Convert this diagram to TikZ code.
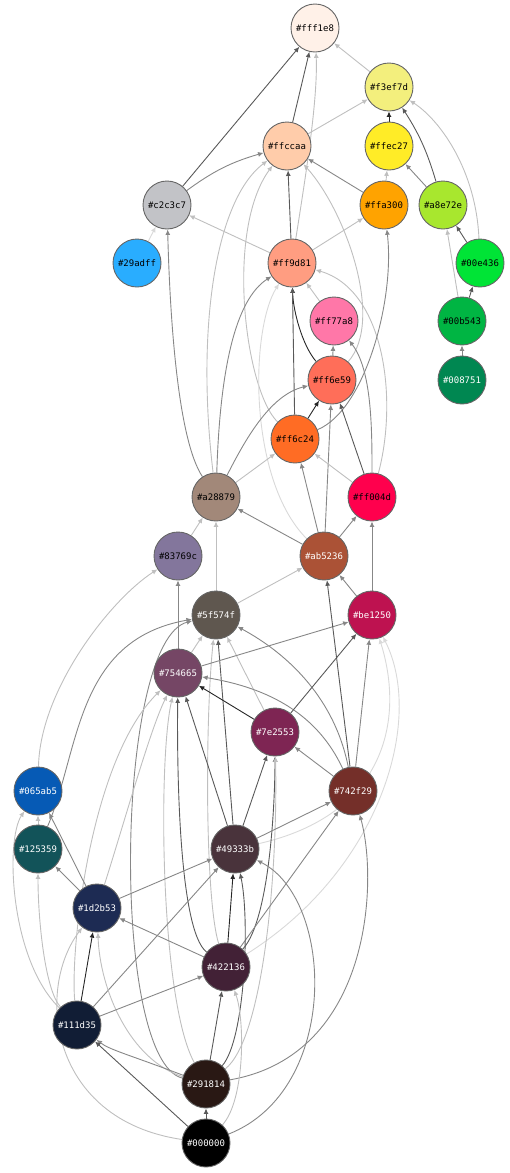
\documentclass[tikz,border=0pt]{standalone}
\usepackage{xcolor}
\usepackage{fontspec}
\setmonofont{DejaVu Sans Mono}
\usepackage{tikz}
\usetikzlibrary{arrows.meta,backgrounds}

\definecolor{cfff1e8}{HTML}{FFF1E8}
\definecolor{cf3ef7d}{HTML}{F3EF7D}
\definecolor{cffec27}{HTML}{FFEC27}
\definecolor{cffccaa}{HTML}{FFCCAA}
\definecolor{cc2c3c7}{HTML}{C2C3C7}
\definecolor{cffa300}{HTML}{FFA300}
\definecolor{ca8e72e}{HTML}{A8E72E}
\definecolor{c29adff}{HTML}{29ADFF}
\definecolor{cff9d81}{HTML}{FF9D81}
\definecolor{c00e436}{HTML}{00E436}
\definecolor{cff77a8}{HTML}{FF77A8}
\definecolor{c00b543}{HTML}{00B543}
\definecolor{cff6e59}{HTML}{FF6E59}
\definecolor{c008751}{HTML}{008751}
\definecolor{cff6c24}{HTML}{FF6C24}
\definecolor{ca28879}{HTML}{A28879}
\definecolor{cff004d}{HTML}{FF004D}
\definecolor{c83769c}{HTML}{83769C}
\definecolor{cab5236}{HTML}{AB5236}
\definecolor{c5f574f}{HTML}{5F574F}
\definecolor{cbe1250}{HTML}{BE1250}
\definecolor{c754665}{HTML}{754665}
\definecolor{c7e2553}{HTML}{7E2553}
\definecolor{c065ab5}{HTML}{065AB5}
\definecolor{c742f29}{HTML}{742F29}
\definecolor{c125359}{HTML}{125359}
\definecolor{c49333b}{HTML}{49333B}
\definecolor{c1d2b53}{HTML}{1D2B53}
\definecolor{c422136}{HTML}{422136}
\definecolor{c111d35}{HTML}{111D35}
\definecolor{c291814}{HTML}{291814}
\definecolor{c000000}{HTML}{000000}

\begin{document}
\begin{tikzpicture}[x=1pt,y=-1pt,
  swatch/.style={circle,draw=black!60,line width=0.9pt,minimum size=48pt,inner sep=0pt,
    font=\ttfamily\fontsize{9}{10}\selectfont},
  dk/.style={text=white},
  lnk/.style={line width=0.9pt,-{Latex[length=5.5pt,width=5pt]}},
  eK/.style={lnk,draw=black!85},
  eD/.style={lnk,draw=black!65},
  eG/.style={lnk,draw=black!47},
  eL/.style={lnk,draw=black!25},
  eLL/.style={lnk,draw=black!15}]
\useasboundingbox (0,0) rectangle (510,1173);
% swatches, lightest on top
\node[swatch,fill=cfff1e8] (nfff1e8) at (315,28) {\#fff1e8};
\node[swatch,fill=cf3ef7d] (nf3ef7d) at (389,87) {\#f3ef7d};
\node[swatch,fill=cffec27] (nffec27) at (389,146) {\#ffec27};
\node[swatch,fill=cffccaa] (nffccaa) at (287,146) {\#ffccaa};
\node[swatch,fill=cc2c3c7] (nc2c3c7) at (167,205) {\#c2c3c7};
\node[swatch,fill=cffa300] (nffa300) at (384,205) {\#ffa300};
\node[swatch,fill=ca8e72e] (na8e72e) at (443,205) {\#a8e72e};
\node[swatch,fill=c29adff] (n29adff) at (137,263) {\#29adff};
\node[swatch,fill=cff9d81] (nff9d81) at (292,263) {\#ff9d81};
\node[swatch,fill=c00e436] (n00e436) at (480,263) {\#00e436};
\node[swatch,fill=cff77a8] (nff77a8) at (334,321) {\#ff77a8};
\node[swatch,fill=c00b543] (n00b543) at (462,321) {\#00b543};
\node[swatch,fill=cff6e59] (nff6e59) at (332,380) {\#ff6e59};
\node[swatch,fill=c008751,dk] (n008751) at (462,380) {\#008751};
\node[swatch,fill=cff6c24] (nff6c24) at (295,439) {\#ff6c24};
\node[swatch,fill=ca28879] (na28879) at (216,497) {\#a28879};
\node[swatch,fill=cff004d] (nff004d) at (372,497) {\#ff004d};
\node[swatch,fill=c83769c] (n83769c) at (178,556) {\#83769c};
\node[swatch,fill=cab5236,dk] (nab5236) at (324,556) {\#ab5236};
\node[swatch,fill=c5f574f,dk] (n5f574f) at (216,615) {\#5f574f};
\node[swatch,fill=cbe1250,dk] (nbe1250) at (372,615) {\#be1250};
\node[swatch,fill=c754665,dk] (n754665) at (178,673) {\#754665};
\node[swatch,fill=c7e2553,dk] (n7e2553) at (275,732) {\#7e2553};
\node[swatch,fill=c065ab5,dk] (n065ab5) at (38,791) {\#065ab5};
\node[swatch,fill=c742f29,dk] (n742f29) at (353,791) {\#742f29};
\node[swatch,fill=c125359,dk] (n125359) at (38,849) {\#125359};
\node[swatch,fill=c49333b,dk] (n49333b) at (235,849) {\#49333b};
\node[swatch,fill=c1d2b53,dk] (n1d2b53) at (97,908) {\#1d2b53};
\node[swatch,fill=c422136,dk] (n422136) at (226,967) {\#422136};
\node[swatch,fill=c111d35,dk] (n111d35) at (77,1025) {\#111d35};
\node[swatch,fill=c291814,dk] (n291814) at (206,1084) {\#291814};
\node[swatch,fill=c000000,dk] (n000000) at (206,1143) {\#000000};

\begin{scope}[on background layer]
% top part
\draw[eD] (nc2c3c7) -- (nfff1e8);
\draw[eD] (nffccaa) -- (nfff1e8);
\draw[eL] (nff9d81) .. controls (305,180) and (318,100) .. (nfff1e8);
\draw[eL] (nf3ef7d) -- (nfff1e8);
\draw[eK] (nffec27) -- (nf3ef7d);
\draw[eL] (nffccaa) -- (nf3ef7d);
\draw[eD] (na8e72e) to[bend right=8] (nf3ef7d);
\draw[eL] (n00e436) .. controls (476,170) and (440,120) .. (nf3ef7d);
\draw[eL] (nffa300) -- (nffec27);
\draw[eG] (na8e72e) -- (nffec27);
\draw[eG] (nffa300) -- (nffccaa);
\draw[eD] (nff9d81) -- (nffccaa);
\draw[eG] (nc2c3c7) to[bend left=10] (nffccaa);
\draw[eL] (na28879) .. controls (196,330) and (215,200) .. (nffccaa);
\draw[eL] (nff6c24) .. controls (245,390) and (225,230) .. (nffccaa);
\draw[eL] (nff6e59) .. controls (385,320) and (345,210) .. (nffccaa);
\draw[eL] (nff9d81) -- (nffa300);
\draw[eL] (nff9d81) -- (nc2c3c7);
\draw[eG] (na28879) .. controls (178,440) and (170,320) .. (nc2c3c7);
\draw[eLL] (n29adff) -- (nc2c3c7);
% green column
\draw[eD] (n00b543) -- (n00e436);
\draw[eL] (n00b543) -- (na8e72e);
\draw[eD] (n00e436) -- (na8e72e);
\draw[eG] (n008751) -- (n00b543);
% middle part
\draw[eK] (nff6e59) .. controls (302,345) and (293,310) .. (nff9d81);
\draw[eD] (nff6c24) -- (nff9d81);
\draw[eL] (nff77a8) -- (nff9d81);
\draw[eG] (na28879) .. controls (220,370) and (235,300) .. (nff9d81);
\draw[eL] (nff004d) .. controls (398,400) and (385,290) .. (nff9d81);
\draw[eLL] (nab5236) .. controls (248,480) and (250,330) .. (nff9d81);
\draw[eG] (nff6e59) -- (nff77a8);
\draw[eG] (nff004d) .. controls (372,430) and (372,370) .. (nff77a8);
\draw[eG] (nff6c24) .. controls (365,410) and (395,300) .. (nffa300);
\draw[eK] (nff6c24) -- (nff6e59);
\draw[eG] (nab5236) -- (nff6c24);
\draw[eG] (nab5236) -- (nff6e59);
\draw[eD] (nff004d) -- (nff6e59);
\draw[eL] (nff004d) -- (nff6c24);
\draw[eL] (na28879) -- (nff6c24);
\draw[eG] (na28879) .. controls (245,440) and (270,395) .. (nff6e59);
\draw[eG] (nab5236) -- (nff004d);
\draw[eG] (nbe1250) -- (nff004d);
\draw[eG] (nab5236) -- (na28879);
\draw[eL] (n83769c) -- (na28879);
\draw[eL] (n5f574f) -- (na28879);
\draw[eG] (n754665) -- (n83769c);
\draw[eL] (n065ab5) .. controls (40,690) and (110,600) .. (n83769c);
\draw[eL] (n5f574f) -- (nab5236);
\draw[eG] (nbe1250) -- (nab5236);
% lower part
\draw[eL] (n754665) -- (n5f574f);
\draw[eG] (n125359) .. controls (80,750) and (75,640) .. (n5f574f);
\draw[eG] (n291814) .. controls (110,1060) and (115,640) .. (n5f574f);
\draw[eD] (n49333b) -- (n5f574f);
\draw[eL] (n422136) .. controls (205,900) and (205,720) .. (n5f574f);
\draw[eL] (n7e2553) -- (n5f574f);
\draw[eG] (n742f29) .. controls (335,700) and (290,655) .. (n5f574f);
\draw[eG] (n754665) -- (nbe1250);
\draw[eG] (n742f29) .. controls (318,715) and (270,688) .. (n754665);
\draw[eK] (n7e2553) -- (n754665);
\draw[eD] (n49333b) -- (n754665);
\draw[eD] (n422136) .. controls (178,930) and (177,760) .. (n754665);
\draw[eL] (n1d2b53) .. controls (125,820) and (150,730) .. (n754665);
\draw[eL] (n291814) .. controls (160,1000) and (158,760) .. (n754665);
\draw[eL] (n111d35) .. controls (70,950) and (90,760) .. (n754665);
\draw[eD] (n7e2553) -- (nbe1250);
\draw[eG] (n742f29) -- (nbe1250);
\draw[eD] (n742f29) -- (nab5236);
\draw[eLL] (n49333b) .. controls (385,815) and (405,720) .. (nbe1250);
\draw[eLL] (n422136) .. controls (380,870) and (425,720) .. (nbe1250);
\draw[eG] (n742f29) -- (n7e2553);
\draw[eD] (n49333b) -- (n7e2553);
\draw[eD] (n422136) .. controls (270,920) and (275,800) .. (n7e2553);
\draw[eL] (n291814) .. controls (262,1040) and (278,880) .. (n7e2553);
\draw[eG] (n49333b) -- (n742f29);
\draw[eG] (n422136) -- (n742f29);
\draw[eG] (n291814) .. controls (372,1055) and (378,880) .. (n742f29);
\draw[eL] (n125359) -- (n065ab5);
\draw[eG] (n1d2b53) -- (n065ab5);
\draw[eL] (n111d35) .. controls (10,960) and (5,840) .. (n065ab5);
\draw[eG] (n1d2b53) -- (n125359);
\draw[eL] (n111d35) .. controls (45,990) and (38,920) .. (n125359);
\draw[eG] (n1d2b53) -- (n49333b);
\draw[eK] (n422136) -- (n49333b);
\draw[eD] (n291814) .. controls (245,1040) and (250,920) .. (n49333b);
\draw[eG] (n000000) .. controls (340,1090) and (335,900) .. (n49333b);
\draw[eG] (n111d35) -- (n49333b);
\draw[eG] (n422136) -- (n1d2b53);
\draw[eK] (n111d35) -- (n1d2b53);
\draw[eL] (n000000) .. controls (50,1120) and (35,990) .. (n1d2b53);
\draw[eL] (n291814) .. controls (130,1060) and (100,990) .. (n1d2b53);
\draw[eG] (n111d35) -- (n422136);
\draw[eD] (n291814) -- (n422136);
\draw[eL] (n000000) .. controls (245,1100) and (245,1020) .. (n422136);
\draw[eG] (n291814) .. controls (130,1055) and (110,1050) .. (n111d35);
\draw[eD] (n000000) -- (n111d35);
\draw[eD] (n000000) -- (n291814);
\end{scope}
\end{tikzpicture}
\end{document}
